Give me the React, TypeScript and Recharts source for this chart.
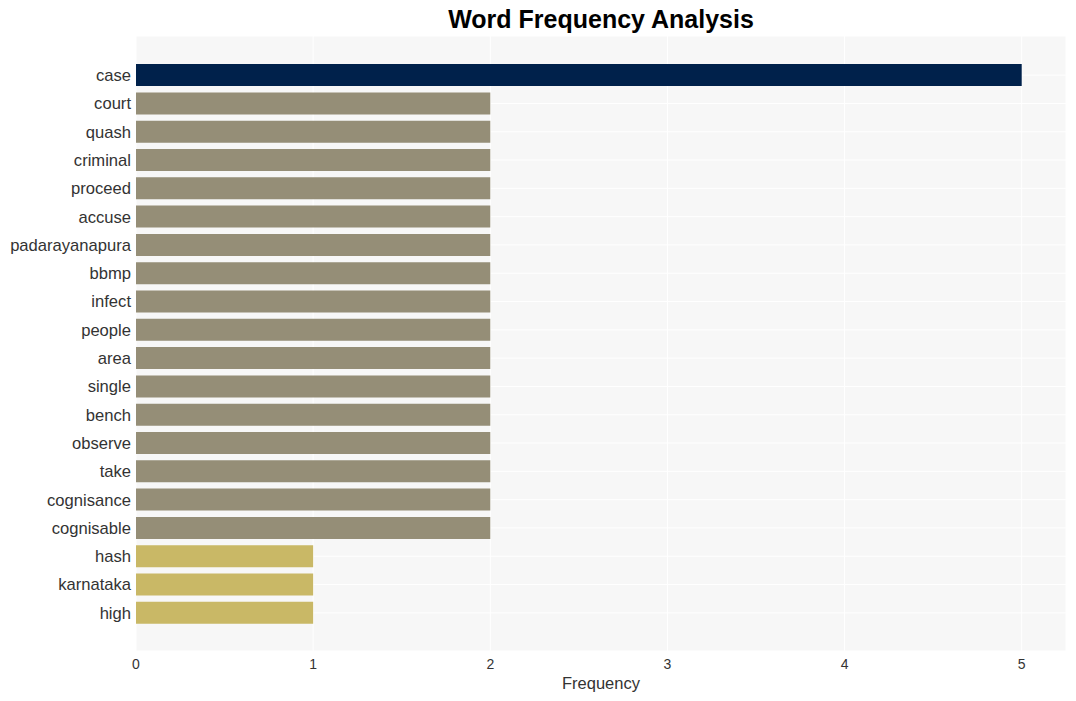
import { Bar, BarChart, CartesianGrid, Cell, Label, XAxis, YAxis } from "recharts"

const words = [
  "case",
  "court",
  "quash",
  "criminal",
  "proceed",
  "accuse",
  "padarayanapura",
  "bbmp",
  "infect",
  "people",
  "area",
  "single",
  "bench",
  "observe",
  "take",
  "cognisance",
  "cognisable",
  "hash",
  "karnataka",
  "high",
]

const counts = [5, 2, 2, 2, 2, 2, 2, 2, 2, 2, 2, 2, 2, 2, 2, 2, 2, 1, 1, 1]

const xTicks = [0, 1, 2, 3, 4, 5]

const data = words.map((word, i) => ({ word, count: counts[i] }))

// colour by frequency level
const barColor = (v: number) => (v >= 5 ? "#00214b" : v >= 2 ? "#958e77" : "#c9b866")

const font = "Liberation Sans, Arial, Helvetica, sans-serif"

export default function App() {
  return (
    <div style={{ position: "absolute", left: 0, top: 0, width: 1076, height: 701, background: "#fff", fontFamily: font }}>
      <div
        style={{
          position: "absolute",
          left: 136,
          width: 930,
          top: 5,
          textAlign: "center",
          fontSize: 25,
          fontWeight: "bold",
          color: "#000",
        }}
      >
        Word Frequency Analysis
      </div>
      <BarChart
        width={1076}
        height={701}
        data={data}
        layout="vertical"
        margin={{ top: 36, right: 10, bottom: 0, left: 0 }}
        barCategoryGap="11%"
      >
        <CartesianGrid fill="#f7f7f7" stroke="#ffffff" strokeWidth={1} />
        <XAxis
          type="number"
          domain={[0, 5.25]}
          ticks={xTicks}
          height={50}
          axisLine={false}
          tickLine={false}
          tick={{ fill: "#333", fontSize: 14, fontFamily: font }}
        >
          <Label value="Frequency" position="insideBottom" offset={12} fill="#333" fontSize={16.5} fontFamily={font} />
        </XAxis>
        <YAxis
          type="category"
          dataKey="word"
          width={136}
          padding={{ top: 25, bottom: 24 }}
          axisLine={false}
          tickLine={false}
          tickSize={0}
          tickMargin={5}
          interval={0}
          tick={{ fill: "#333", fontSize: 16.6, fontFamily: font }}
        />
        <Bar dataKey="count" isAnimationActive={false}>
          {data.map((d) => (
            <Cell key={d.word} fill={barColor(d.count)} />
          ))}
        </Bar>
      </BarChart>
    </div>
  )
}
